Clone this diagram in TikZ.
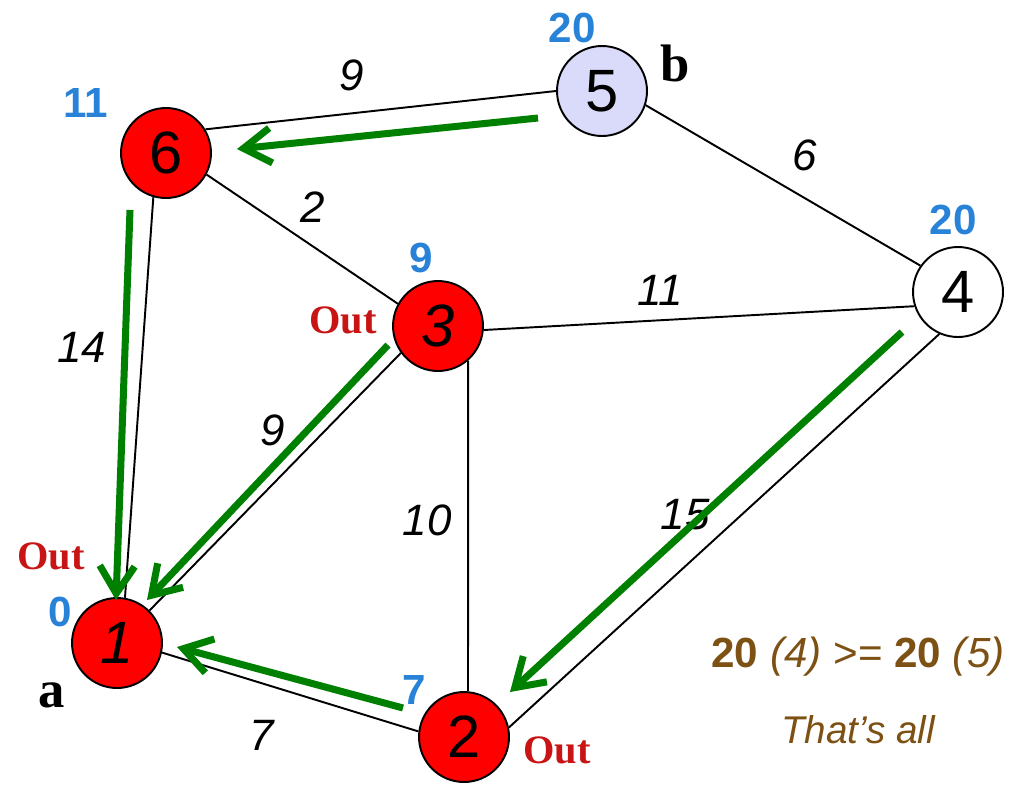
\documentclass[tikz,border=0pt]{standalone}
\usepackage{fontspec}
\setmainfont{Liberation Sans}
\newfontfamily\serifbf{Liberation Serif}
\usetikzlibrary{arrows.meta}
\definecolor{gr}{RGB}{0,128,0}
\definecolor{bl}{RGB}{40,130,215}
\definecolor{outred}{RGB}{200,20,20}
\definecolor{brn}{RGB}{125,80,20}
\definecolor{lav}{RGB}{218,218,250}
\definecolor{nred}{RGB}{255,0,0}
\begin{document}
\begin{tikzpicture}[x=0.02cm,y=-0.02cm,
 vert/.style={circle, draw=black, line width=1.1pt, minimum size=1.8cm, inner sep=0pt, font=\fontsize{34}{34}\selectfont},
 redv/.style={vert, fill=nred},
 edge/.style={draw=black, line width=1.1pt},
 wlab/.style={font=\fontsize{25}{25}\selectfont\itshape, inner sep=0pt},
 dist/.style={text=bl, font=\fontsize{24}{24}\selectfont\bfseries, inner sep=0pt},
 outlab/.style={text=outred, font=\serifbf\fontsize{23}{23}\selectfont\bfseries, inner sep=0pt},
 namelab/.style={font=\serifbf\fontsize{30}{30}\selectfont\bfseries, inner sep=0pt},
 garrow/.style={draw=gr, line width=4pt, -{Straight Barb[length=0.55cm, width=0.7cm]}}
]
\useasboundingbox (0,0) rectangle (1023,785);
% vertices
\node[redv] (n1) at (117,643) {\itshape 1};
\node[redv] (n2) at (464,737) {2};
\node[redv] (n3) at (438,326) {\itshape 3};
\node[vert, fill=white] (n4) at (958,292) {4};
\node[vert, fill=lav] (n5) at (602,91) {5};
\node[redv] (n6) at (166,153) {6};
% edges
\draw[edge] (n6.31) -- (n5.180);
\draw[edge] (n5.-18) -- (n4.145);
\draw[edge] (n6.-28) -- (n3.151);
\draw[edge] (n3.-5) -- (n4.198);
\draw[edge] (n3.216) -- (n1.45);
\draw[edge] (n3.-49) -- (n2.85);
\draw[edge] (n6.-106) -- (n1.80);
\draw[edge] (n1.-12) -- (n2.173);
\draw[edge] (n4.246) -- (n2.12);
% weights
\node[wlab] (w65) at (352,75) {9};
\node[wlab] (w54) at (805,155) {6};
\node[wlab] (w63) at (313,207) {2};
\node[wlab] (w34) at (660,290) {11};
\node[wlab] (w61) at (82,347) {14};
\node[wlab] (w31) at (273,430) {9};
\node[wlab] (w32) at (427,520) {10};
\node[wlab] (w42) at (685,515) {15};
\node[wlab] (w12) at (262,735) {7};
% distances
\node[dist] (d1) at (60,612) {0};
\node[dist] (d2) at (414,690) {7};
\node[dist] (d3) at (421,258) {9};
\node[dist] (d5) at (572,28) {20};
\node[dist] (d6) at (86,103) {11};
\node[dist] (d4) at (953,220) {20};
% out labels
\node[outlab] (o1) at (51,556) {Out};
\node[outlab] (o3) at (343,320) {Out};
\node[outlab] (o2) at (557,750) {Out};
% names
\node[namelab] (la) at (52,695) {a};
\node[namelab] (lb) at (675,63) {b};
% green arrows
\coordinate (a56s) at (538,118); \coordinate (a56e) at (237,149);
\coordinate (a61s) at (130,210); \coordinate (a61e) at (116,600);
\coordinate (a31s) at (388,345); \coordinate (a31e) at (147,600);
\coordinate (a42s) at (902,332); \coordinate (a42e) at (510,692);
\coordinate (a21s) at (403,708); \coordinate (a21e) at (177,647);
\draw[garrow] (a56s) -- (a56e);
\draw[garrow] (a61s) -- (a61e);
\draw[garrow] (a31s) -- (a31e);
\draw[garrow] (a42s) -- (a42e);
\draw[garrow] (a21s) -- (a21e);
% text
\node[text=brn, font=\fontsize{24}{24}\selectfont, inner sep=0pt] (cmp) at (858,657) {\textbf{20} \textit{(4)} >= \textbf{20} \textit{(5)}};
\node[text=brn, font=\fontsize{22}{22}\selectfont\itshape, inner sep=0pt] (done) at (858,730) {That's all};
\end{tikzpicture}
\end{document}
